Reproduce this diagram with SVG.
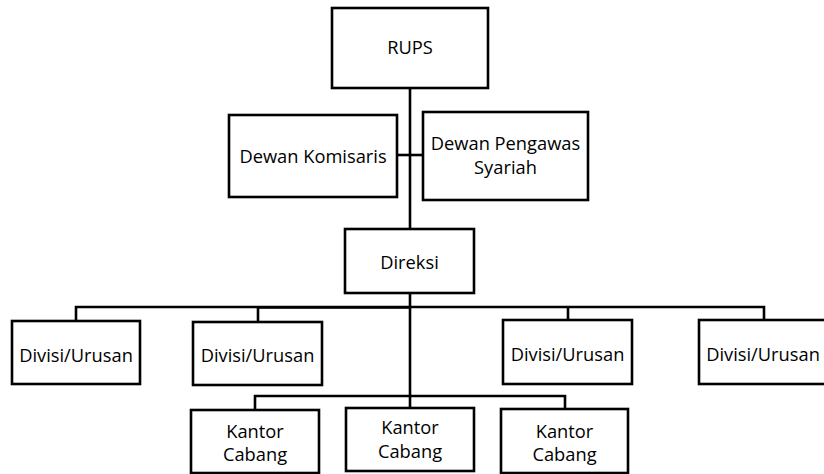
<svg xmlns="http://www.w3.org/2000/svg" width="824" height="474" viewBox="0 0 824 474">
<style>
.box{fill:#fff;stroke:#000;stroke-width:2.6}
.ln{fill:none;stroke:#000;stroke-width:2.6}
text{font-family:"Open Sans",Lato,sans-serif;font-size:18.3px;fill:#000;text-anchor:middle}
</style>
<rect width="824" height="474" fill="#fff"/>
<g id="connectors">
<path class="ln" d="M410,88 V229"/>
<path class="ln" d="M397,155 H423"/>
<path class="ln" d="M410,293 V396"/>
<path class="ln" d="M76,321 V307 H764 V320"/>
<path class="ln" d="M257,307.5 H410" stroke-width="4"/>
<path class="ln" d="M258,307 V322"/>
<path class="ln" d="M568,307 V320"/>
<path class="ln" d="M255,410 V396 H565 V409"/>
<path class="ln" d="M410,396 V408"/>
</g>
<g id="rups"><rect class="box" x="332" y="8" width="156" height="80"/><text x="410" y="54">RUPS</text></g>
<g id="dewan-komisaris"><rect class="box" x="229" y="115" width="168" height="82"/><text x="313" y="163">Dewan Komisaris</text></g>
<g id="dewan-pengawas"><rect class="box" x="423" y="112" width="165" height="88"/><text x="505.5" y="150">Dewan Pengawas</text><text x="505.5" y="174">Syariah</text></g>
<g id="direksi"><rect class="box" x="345" y="229" width="129" height="64"/><text x="409.5" y="269">Direksi</text></g>
<g id="divisi1"><rect class="box" x="12" y="321" width="128" height="63"/><text x="76" y="362">Divisi/Urusan</text></g>
<g id="divisi2"><rect class="box" x="193" y="322" width="129" height="63"/><text x="257.5" y="362">Divisi/Urusan</text></g>
<g id="divisi3"><rect class="box" x="503" y="320" width="129" height="64"/><text x="567.5" y="361">Divisi/Urusan</text></g>
<g id="divisi4"><rect class="box" x="699" y="320" width="130" height="64"/><text x="763" y="361">Divisi/Urusan</text></g>
<g id="kantor1"><rect class="box" x="191" y="410" width="128" height="63"/><text x="255" y="438">Kantor</text><text x="255" y="461">Cabang</text></g>
<g id="kantor2"><rect class="box" x="346" y="408" width="128" height="63"/><text x="410" y="434">Kantor</text><text x="410" y="458">Cabang</text></g>
<g id="kantor3"><rect class="box" x="501" y="409" width="127" height="64"/><text x="564.5" y="438">Kantor</text><text x="564.5" y="461">Cabang</text></g>
</svg>
